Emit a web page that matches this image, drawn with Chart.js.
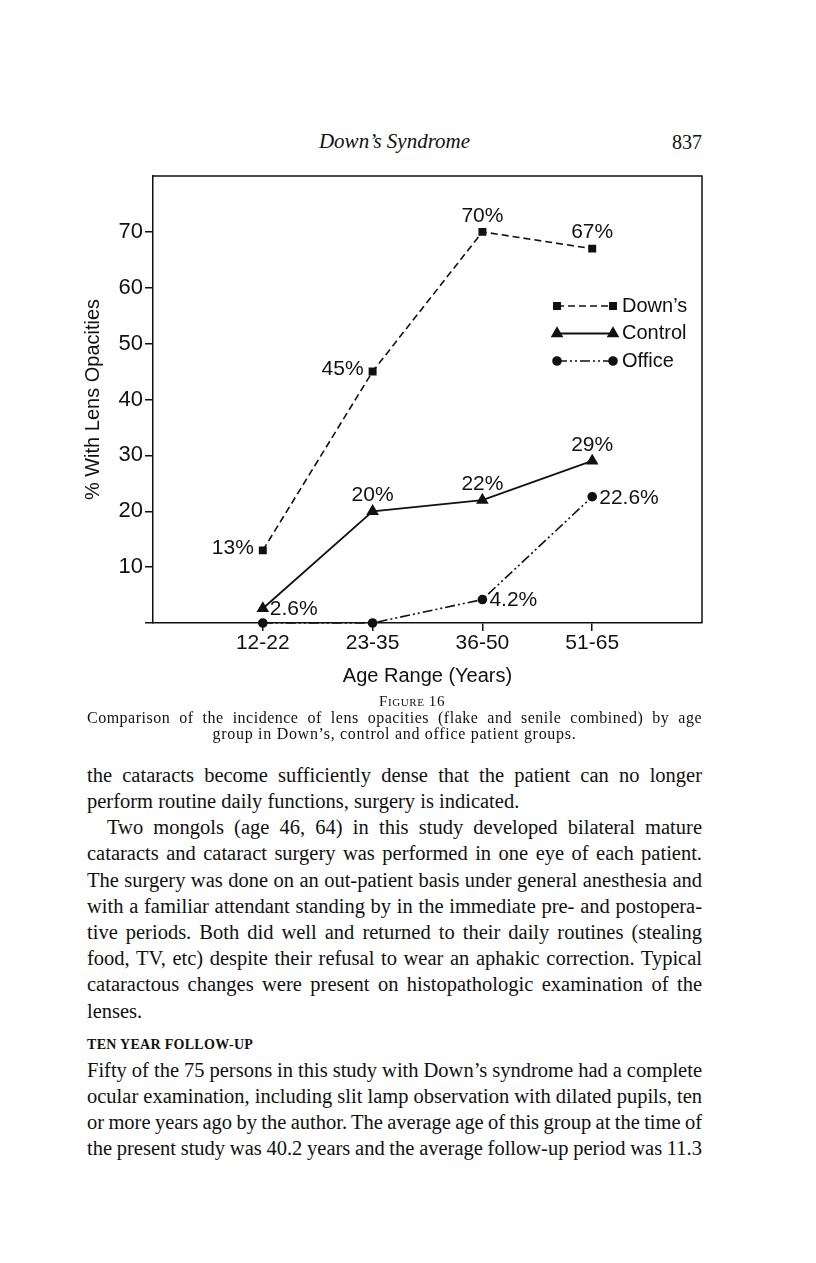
<!DOCTYPE html>
<html>
<head>
<meta charset="utf-8">
<script src="https://cdn.jsdelivr.net/npm/chart.js@4.4.1/dist/chart.umd.min.js"></script>
<style>
  html, body { margin: 0; padding: 0; background: #fff; }
  body { width: 816px; height: 1263px; position: relative; overflow: hidden; color: #111; font-family: "Liberation Serif", "Times New Roman", serif; }
  #chart { position: absolute; left: 0; top: 160px; }
  .ln { position: absolute; white-space: nowrap; line-height: 1; }
</style>
</head>
<body>
<canvas id="chart" width="816" height="540"></canvas>
<div id="page"></div>
<script>
// chart data
const ageGroups = ['12-22', '23-35', '36-50', '51-65'];
const downsValues = [13, 45, 70, 67];
const controlValues = [2.6, 20, 22, 29];
const officeValues = [0, 0, 4.2, 22.6];
const yTickValues = [10, 20, 30, 40, 50, 60, 70];
const yMax = 80;

// empty slot at both ends of the category axis
const pad = arr => [null, ...arr, null];
const ink = '#111';

// where the value text sits next to each point (null = no text)
const downsSides = ['left', 'left', 'top', 'top'];
const controlSides = ['right', 'top', 'top', 'top'];
const officeSides = [null, null, 'right', 'right'];

Chart.defaults.font.family = '"Liberation Sans", Arial, sans-serif';
Chart.defaults.color = ink;

const framePlugin = {
    id: 'frame',
    beforeDatasetsDraw(chart) {
        const { ctx, chartArea: a } = chart;
        ctx.save();
        ctx.strokeStyle = ink;
        ctx.lineWidth = 1.5;
        ctx.beginPath();
        ctx.moveTo(a.left, a.top);
        ctx.lineTo(a.right, a.top);
        ctx.lineTo(a.right, a.bottom);
        ctx.stroke();
        ctx.restore();
    }
};

const pointLabelPlugin = {
    id: 'pointLabels',
    afterDatasetsDraw(chart) {
        const ctx = chart.ctx;
        ctx.save();
        ctx.fillStyle = ink;
        ctx.font = '21px "Liberation Sans", Arial, sans-serif';
        ctx.textBaseline = 'middle';
        chart.data.datasets.forEach((ds, di) => {
            const meta = chart.getDatasetMeta(di);
            ds.sides.forEach((side, i) => {
                if (!side) return;
                const pt = meta.data[i + 1];
                const txt = ds.data[i + 1] + '%';
                if (side === 'left') {
                    ctx.textAlign = 'right';
                    ctx.fillText(txt, pt.x - 9, pt.y - 2);
                } else if (side === 'right') {
                    ctx.textAlign = 'left';
                    ctx.fillText(txt, pt.x + 7, pt.y + 1);
                } else {
                    ctx.textAlign = 'center';
                    ctx.fillText(txt, pt.x, pt.y - 16);
                }
            });
        });
        ctx.restore();
    }
};

const legendPlugin = {
    id: 'pageLegend',
    afterDraw(chart, args, opts) {
        const { ctx, chartArea: a } = chart;
        ctx.save();
        chart.data.datasets.forEach((ds, i) => {
            const x0 = a.left + opts.x;
            const x1 = x0 + opts.len;
            const y = a.top + opts.y + i * opts.dy;
            ctx.strokeStyle = ink;
            ctx.fillStyle = ink;
            ctx.lineWidth = ds.borderWidth;
            ctx.setLineDash(ds.borderDash || []);
            ctx.beginPath();
            ctx.moveTo(x0, y);
            ctx.lineTo(x1, y);
            ctx.stroke();
            ctx.setLineDash([]);
            [x0, x1].forEach(px => {
                Chart.helpers.drawPoint(ctx, {
                    pointStyle: ds.pointStyle,
                    radius: ds.pointRadius,
                    rotation: 0,
                    borderWidth: 1
                }, px, y);
            });
            ctx.font = '20px "Liberation Sans", Arial, sans-serif';
            ctx.textAlign = 'left';
            ctx.textBaseline = 'middle';
            ctx.fillText(ds.label, x1 + 9, y);
        });
        ctx.restore();
    }
};

new Chart(document.getElementById('chart'), {
    type: 'line',
    data: {
        labels: pad(ageGroups).map(v => v || ''),
        datasets: [{
            label: 'Down’s',
            data: pad(downsValues),
            sides: downsSides,
            borderColor: ink,
            backgroundColor: ink,
            borderWidth: 1.6,
            borderDash: [7, 4],
            pointStyle: 'rect',
            pointRadius: 4.5
        }, {
            label: 'Control',
            data: pad(controlValues),
            sides: controlSides,
            borderColor: ink,
            backgroundColor: ink,
            borderWidth: 1.8,
            pointStyle: 'triangle',
            pointRadius: 5.5
        }, {
            label: 'Office',
            data: pad(officeValues),
            sides: officeSides,
            borderColor: ink,
            backgroundColor: ink,
            borderWidth: 1.6,
            borderDash: [10, 3, 2, 3, 2, 3],
            pointStyle: 'circle',
            pointRadius: 4
        }]
    },
    options: {
        responsive: false,
        animation: false,
        devicePixelRatio: 1,
        events: [],
        clip: false,
        layout: { padding: { left: 77, right: 114, top: 16, bottom: 8 } },
        plugins: {
            legend: { display: false },
            tooltip: { enabled: false },
            pageLegend: { x: 404, y: 130, dy: 27.5, len: 56 }
        },
        elements: { line: { tension: 0 } },
        scales: {
            x: {
                afterFit: scale => { scale.height = 69; },
                border: { display: true, color: ink, width: 1.5 },
                grid: {
                    drawOnChartArea: false,
                    tickLength: 8,
                    lineWidth: 1.5,
                    color: ctx => (ctx.tick && ctx.tick.label !== '') ? ink : 'rgba(0,0,0,0)'
                },
                ticks: { autoSkip: false, maxRotation: 0, padding: 0, font: { size: 21 } },
                title: { display: true, text: 'Age Range (Years)', font: { size: 20 }, padding: { top: 0, bottom: 4 } }
            },
            y: {
                min: 0,
                max: yMax,
                afterFit: scale => { scale.width = 76; },
                border: { display: true, color: ink, width: 1.5 },
                grid: {
                    drawOnChartArea: false,
                    tickLength: 8,
                    lineWidth: 1.5,
                    color: ctx => (ctx.tick && ctx.tick.value === yMax) ? 'rgba(0,0,0,0)' : ink
                },
                ticks: {
                    stepSize: 10,
                    padding: 2,
                    font: { size: 22 },
                    callback: v => yTickValues.includes(v) ? String(v) : ''
                },
                title: { display: true, text: '% With Lens Opacities', font: { size: 20 }, padding: { top: 4, bottom: 0 } }
            }
        }
    },
    plugins: [framePlugin, pointLabelPlugin, legendPlugin]
});

// page text around the figure
const colLeft = 87, colWidth = 615;
const page = document.getElementById('page');

// align: 'justify', 'center', 'right', a number (left indent), or {center: x}
function addLine(text, base, size, align, extra, indent) {
    const el = document.createElement('div');
    el.className = 'ln';
    el.textContent = text;
    el.style.fontSize = size + 'px';
    Object.assign(el.style, extra || {});
    page.appendChild(el);
    el.style.top = (base - 0.8375 * size) + 'px';
    const w = el.getBoundingClientRect().width;
    const ind = indent || 0;
    if (align === 'justify') {
        const spaces = (text.match(/ /g) || []).length;
        el.style.left = (colLeft + ind) + 'px';
        if (spaces) el.style.wordSpacing = ((colWidth - ind - w) / spaces) + 'px';
    } else if (align === 'center') {
        el.style.left = (colLeft + colWidth / 2 - w / 2) + 'px';
    } else if (align === 'right') {
        el.style.left = (colLeft + colWidth - w) + 'px';
    } else if (typeof align === 'object') {
        el.style.left = (align.center - w / 2) + 'px';
    } else {
        el.style.left = (colLeft + (align || 0)) + 'px';
    }
}

addLine('Down’s Syndrome', 149, 21, 'center', { fontStyle: 'italic' });
addLine('837', 149, 20, 'right');
addLine('Figure 16', 707, 15, { center: 412 }, { fontVariant: 'small-caps', letterSpacing: '0.6px' });
addLine('Comparison of the incidence of lens opacities (flake and senile combined) by age', 723, 16, 'justify', { letterSpacing: '0.5px' });
addLine('group in Down’s, control and office patient groups.', 739, 16, 'center', { letterSpacing: '0.7px' });

const bodySize = 20.5;
const bodyLines = [
    ['the cataracts become sufficiently dense that the patient can no longer', 'justify'],
    ['perform routine daily functions, surgery is indicated.', 0],
    ['Two mongols (age 46, 64) in this study developed bilateral mature', 'indent'],
    ['cataracts and cataract surgery was performed in one eye of each patient.', 'justify'],
    ['The surgery was done on an out-patient basis under general anesthesia and', 'justify'],
    ['with a familiar attendant standing by in the immediate pre- and postopera-', 'justify'],
    ['tive periods. Both did well and returned to their daily routines (stealing', 'justify'],
    ['food, TV, etc) despite their refusal to wear an aphakic correction. Typical', 'justify'],
    ['cataractous changes were present on histopathologic examination of the', 'justify'],
    ['lenses.', 0]
];
bodyLines.forEach(([t, a], i) => {
    const base = 782 + i * 26.2;
    if (a === 'indent') addLine(t, base, bodySize, 'justify', null, 20);
    else addLine(t, base, bodySize, a);
});

addLine('TEN YEAR FOLLOW-UP', 1050, 14, 0, { fontWeight: 'bold', letterSpacing: '0.3px' });

const tailLines = [
    'Fifty of the 75 persons in this study with Down’s syndrome had a complete',
    'ocular examination, including slit lamp observation with dilated pupils, ten',
    'or more years ago by the author. The average age of this group at the time of',
    'the present study was 40.2 years and the average follow-up period was 11.3'
];
tailLines.forEach((t, i) => addLine(t, 1077 + i * 26.2, bodySize, 'justify'));
</script>
</body>
</html>
